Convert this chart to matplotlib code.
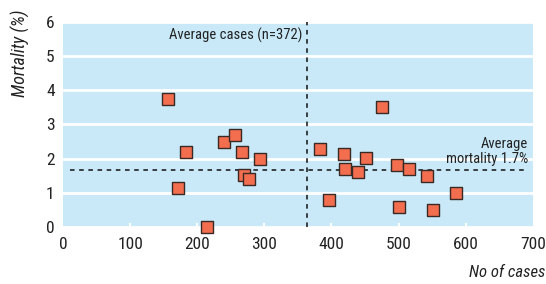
import matplotlib.pyplot as plt

plt.rcParams['font.family'] = ['Roboto Condensed', 'DejaVu Sans']

# number of cases per unit and mortality (%)
cases = [157, 183, 171, 215, 240, 256, 267, 269, 277, 293,
         383, 418, 420, 440, 452, 476, 396, 497, 516, 501, 543, 552, 586]
mortality = [3.75, 2.19, 1.15, 0.0, 2.48, 2.69, 2.19, 1.52, 1.40, 1.98,
             2.27, 2.13, 1.70, 1.60, 2.01, 3.51, 0.78, 1.81, 1.70, 0.59, 1.50, 0.49, 1.01]

avg_cases = 364
avg_mortality = 1.67
x_ticks = [0, 100, 200, 300, 400, 500, 600, 700]
y_ticks = [0, 1, 2, 3, 4, 5, 6]

fig = plt.figure(figsize=(5.46, 2.84), dpi=100)
ax = fig.add_axes([0.1154, 0.2, 0.8603, 0.7236])
ax.set_facecolor('#c9e9f8')
for s in ax.spines.values():
    s.set_visible(False)

ax.set_xlim(0, 700)
ax.set_ylim(0, 6)
ax.set_xticks(x_ticks)
ax.set_yticks(y_ticks)
ax.tick_params(axis='both', labelsize=12.5, length=0, pad=6, colors='#222222')
ax.tick_params(axis='x', pad=7)
ax.grid(axis='y', color='white', linewidth=2)
ax.set_axisbelow(True)
# small white ticks at bottom of panel
for t in x_ticks[1:-1]:
    ax.plot([t, t], [0, 0.1], color='white', lw=1.5, zorder=1)

ax.axvline(avg_cases, color='#111111', lw=1.1, ls=(0, (3, 3)), zorder=2)
ax.plot([10, 690], [avg_mortality, avg_mortality], color='#111111', lw=1.1, ls=(0, (3, 3)), zorder=2)

ax.scatter(cases, mortality, marker='s', s=72, c='#f26e4f', edgecolors='#3a2a25',
           linewidths=1, zorder=3, clip_on=False)

ax.text(avg_cases - 8, 5.6, 'Average cases (n=372)', ha='right', va='center',
        fontsize=10.5, color='#222222')
ax.text(693, 1.8, 'Average\nmortality 1.7%', ha='right', va='bottom',
        fontsize=10.5, color='#222222', linespacing=1.05)

fig.text(0.037, 0.965, 'Mortality (%)', rotation=90, ha='center', va='top',
         fontsize=13, style='italic', color='#222222')
fig.text(0.998, 0.015, 'No of cases', ha='right', va='bottom',
         fontsize=12, style='italic', color='#222222')

fig.savefig('out.png', dpi=100)
